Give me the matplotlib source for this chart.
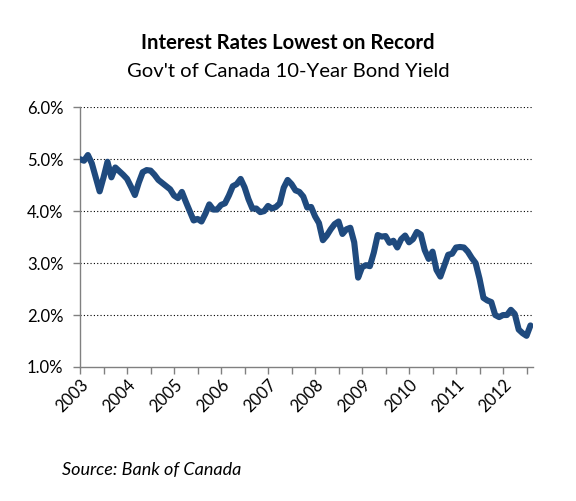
import matplotlib.pyplot as plt
from matplotlib.ticker import FixedLocator, FuncFormatter

# monthly 10-year yields, Jan 2003 .. Aug 2012
y2003 = [5.00, 4.97, 5.08, 4.92, 4.65, 4.38, 4.65, 4.95, 4.65, 4.84, 4.77, 4.70]
y2004 = [4.62, 4.47, 4.31, 4.55, 4.75, 4.79, 4.78, 4.70, 4.60, 4.54, 4.48, 4.42]
y2005 = [4.30, 4.25, 4.37, 4.18, 4.00, 3.82, 3.85, 3.80, 3.95, 4.13, 4.03, 4.03]
y2006 = [4.12, 4.15, 4.30, 4.48, 4.52, 4.62, 4.46, 4.23, 4.05, 4.05, 3.98, 4.00]
y2007 = [4.10, 4.05, 4.08, 4.15, 4.45, 4.60, 4.52, 4.40, 4.37, 4.28, 4.07, 4.08]
y2008 = [3.90, 3.77, 3.44, 3.53, 3.65, 3.75, 3.80, 3.56, 3.65, 3.68, 3.40, 2.72]
y2009 = [2.92, 2.96, 2.94, 3.20, 3.54, 3.51, 3.52, 3.39, 3.43, 3.30, 3.46, 3.53]
y2010 = [3.40, 3.46, 3.60, 3.55, 3.25, 3.08, 3.22, 2.87, 2.74, 2.95, 3.16, 3.18]
y2011 = [3.30, 3.31, 3.30, 3.22, 3.10, 3.00, 2.70, 2.33, 2.28, 2.25, 2.00, 1.96]
y2012 = [2.00, 2.00, 2.10, 2.02, 1.72, 1.65, 1.60, 1.80]

yields = y2003 + y2004 + y2005 + y2006 + y2007 + y2008 + y2009 + y2010 + y2011 + y2012
years = ['2003', '2004', '2005', '2006', '2007', '2008', '2009', '2010', '2011', '2012']
yticks = [1, 2, 3, 4, 5, 6]

fig = plt.figure(figsize=(5.76, 5.01), dpi=100)
ax = fig.add_axes([0.139, 0.2675, 0.786, 0.5185])

months = list(range(len(yields)))
ax.plot(months, yields, color='#1f4a7e', lw=4.4, solid_joinstyle='round', solid_capstyle='round', zorder=3)

ax.set_ylim(1, 6)
ax.set_xlim(0, 115.6)
ax.set_yticks(yticks)
ax.yaxis.set_major_formatter(FuncFormatter(lambda v, p: f'{v:.1f}%'))
ax.set_xticks([12 * i for i in range(len(years))])
ax.set_xticklabels(years, rotation=45, ha='right', va='top', rotation_mode='anchor')
ax.xaxis.set_minor_locator(FixedLocator([6 + 12 * i for i in range(10)]))

for v in yticks[1:]:
    ax.axhline(v, color='black', lw=0.8, ls=(0, (1, 2)), zorder=1)

for s in ['top', 'right']:
    ax.spines[s].set_visible(False)
for s in ['left', 'bottom']:
    ax.spines[s].set_color('#808080')
    ax.spines[s].set_linewidth(1.0)
ax.tick_params(which='both', direction='out', length=5, color='#808080', width=1.0, labelsize=12, labelcolor='black')
ax.tick_params(axis='y', pad=7)
ax.tick_params(axis='x', pad=2)
for lab in ax.get_xticklabels() + ax.get_yticklabels():
    lab.set_family('Lato')

fig.text(0.5, 0.915, 'Interest Rates Lowest on Record', ha='center', va='center',
         fontsize=14.6, fontweight='bold', family='Lato')
fig.text(0.5, 0.858, "Gov't of Canada 10-Year Bond Yield", ha='center', va='center',
         fontsize=14.6, family='Lato')
fig.text(0.108, 0.062, 'Source: Bank of Canada', ha='left', va='center',
         fontsize=13, style='italic', family='Lato')

fig.savefig('out.png', dpi=100, facecolor='white')
